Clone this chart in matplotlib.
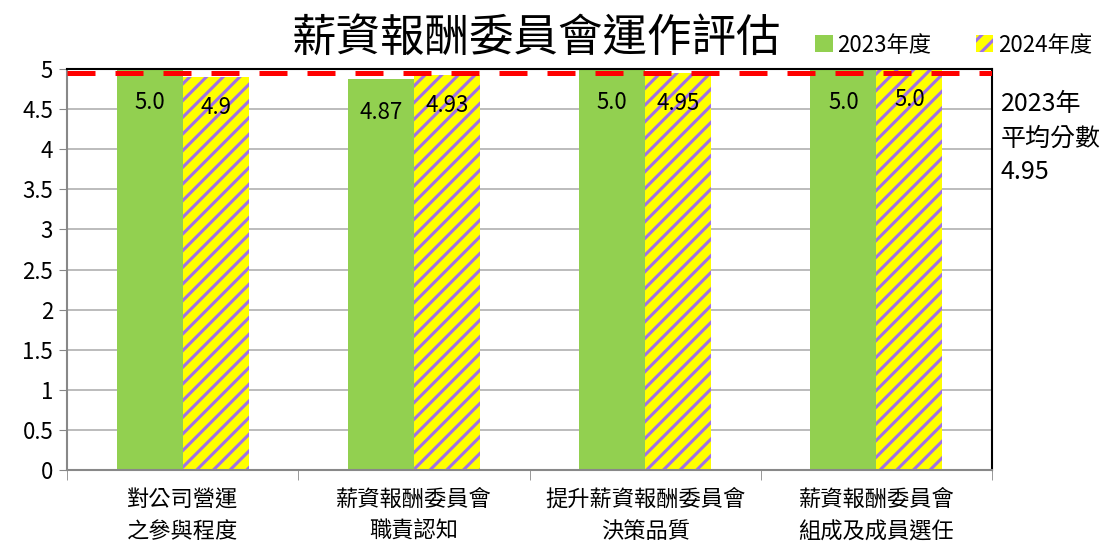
import matplotlib
matplotlib.use("Agg")
import matplotlib.pyplot as plt
from matplotlib.patches import Patch
import numpy as np

plt.rcParams["font.family"] = ["Noto Sans CJK TC", "DejaVu Sans"]
plt.rcParams["hatch.linewidth"] = 2.2
plt.rcParams["axes.unicode_minus"] = False

# ── 資料 ──────────────────────────────────────
categories = ["對公司營運\n之參與程度", "薪資報酬委員會\n職責認知",
              "提升薪資報酬委員會\n決策品質", "薪資報酬委員會\n組成及成員選任"]
scores_2023 = [5.0, 4.87, 5.0, 5.0]
scores_2024 = [4.9, 4.93, 4.95, 5.0]
labels_2023 = ["5.0", "4.87", "5.0", "5.0"]
labels_2024 = ["4.9", "4.93", "4.95", "5.0"]
avg_2023 = 4.95
yticks = [0, 0.5, 1, 1.5, 2, 2.5, 3, 3.5, 4, 4.5, 5]
ytick_labels = ["0", "0.5", "1", "1.5", "2", "2.5", "3", "3.5", "4", "4.5", "5"]

GREEN = "#92d050"
YELLOW = "#ffff00"
PURPLE = "#a070e8"

fig = plt.figure(figsize=(11.12, 5.43), dpi=100)
ax = fig.add_axes([0.0603, 0.1344, 0.8318, 0.7385])

x = np.arange(len(categories))
w = 0.285
ax.bar(x - w / 2, scores_2023, width=w, color=GREEN, linewidth=0, zorder=2)
ax.bar(x + w / 2, scores_2024, width=w, color=YELLOW, edgecolor=PURPLE,
       hatch="//", linewidth=0, zorder=2)

# 數值標籤
for xi, v, s in zip(x - w / 2, scores_2023, labels_2023):
    ax.annotate(s, (xi, v), xytext=(0, -24), textcoords="offset points",
                ha="center", va="center", fontsize=16, zorder=5)
for xi, v, s in zip(x + w / 2, scores_2024, labels_2024):
    ax.annotate(s, (xi, v), xytext=(0, -22), textcoords="offset points",
                ha="center", va="center", fontsize=16, zorder=5)

# 平均線
ax.axhline(avg_2023, color="#ff0000", linewidth=3.6, dashes=(5.6, 4),
           zorder=4)

ax.set_xlim(-0.5, len(categories) - 0.5)
ax.set_ylim(0, 5)
ax.set_yticks(yticks)
ax.set_yticklabels(ytick_labels, fontsize=16)
ax.set_xticks(x)
ax.set_xticklabels(categories, fontsize=16, linespacing=1.5)
ax.set_xticks(np.arange(len(categories) + 1) - 0.5, minor=True)
ax.tick_params(axis="x", which="major", length=0, pad=13)
ax.tick_params(axis="x", which="minor", length=7, color="#888888")
ax.tick_params(axis="y", length=6, color="#888888", pad=4)
ax.yaxis.grid(True, color="#b0b0b0", linewidth=1.2, zorder=0)
ax.set_axisbelow(True)

for side in ["left", "bottom"]:
    ax.spines[side].set_color("#888888")
    ax.spines[side].set_linewidth(1.5)
for side in ["top", "right"]:
    ax.spines[side].set_color("black")
    ax.spines[side].set_linewidth(1.5)

fig.text(0.482, 0.93, "薪資報酬委員會運作評估", fontsize=32,
         ha="center", va="center")

handles = [Patch(facecolor=GREEN, linewidth=0),
           Patch(facecolor=YELLOW, edgecolor=PURPLE, hatch="//", linewidth=0)]
fig.legend(handles, ["2023年度", "2024年度"], loc="center right",
           bbox_to_anchor=(1.0, 0.917), ncol=2, frameon=False, fontsize=16,
           handlelength=0.8, handleheight=0.8, handletextpad=0.2,
           columnspacing=2.0)

fig.text(0.9, 0.745, "2023年\n平均分數\n4.95", fontsize=18,
         ha="left", va="center", linespacing=1.4)

fig.savefig("out.png", dpi=100)
